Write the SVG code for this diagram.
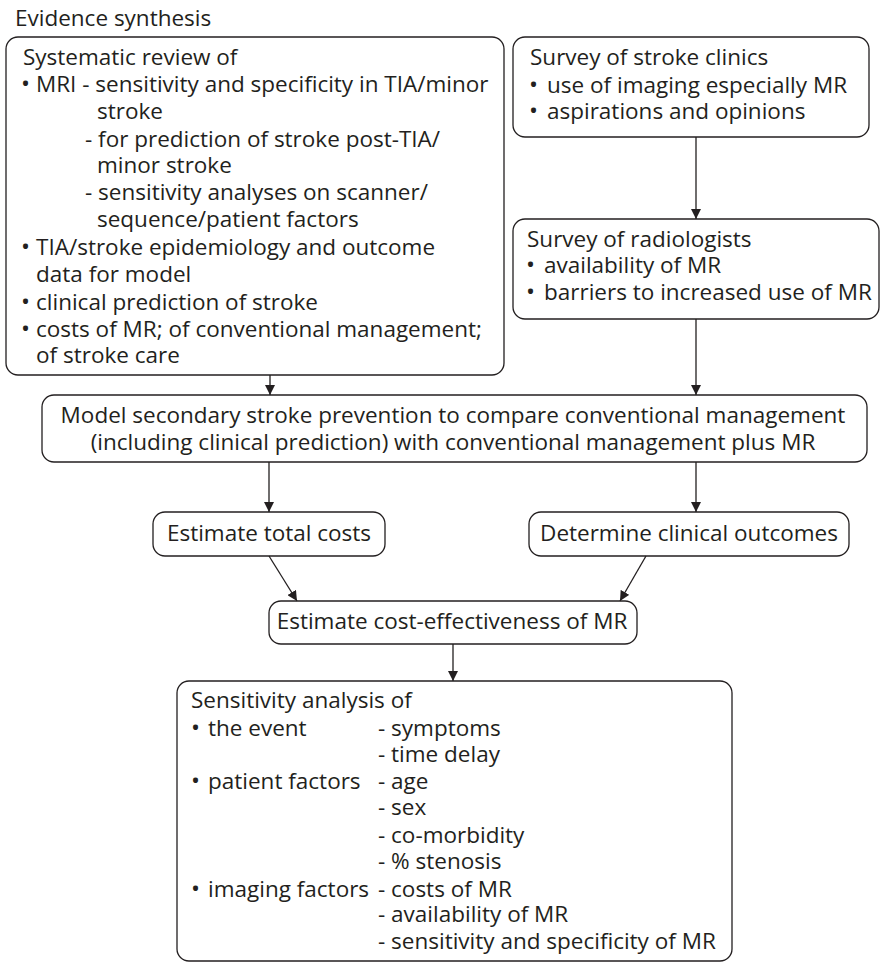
<svg xmlns="http://www.w3.org/2000/svg" width="880" height="963" viewBox="0 0 880 963">
<style>
text{font-family:"Open Sans","Noto Sans","Liberation Sans",sans-serif;font-size:22.5px;fill:#231f20}
.b{font-size:24px}
.box{fill:#fff;stroke:#231f20;stroke-width:1.3}
.c{text-anchor:middle}
.conn line{stroke:#231f20;stroke-width:1.3;marker-end:url(#ah)}
</style>
<defs>
<marker id="ah" viewBox="0 0 10 10" refX="10" refY="5" markerWidth="10" markerHeight="10" markerUnits="userSpaceOnUse" orient="auto">
<path d="M0,0 L10,5 L0,10 z" fill="#231f20"/>
</marker>
</defs>
<rect width="880" height="963" fill="#fff"/>
<text id="title" x="15" y="26">Evidence synthesis</text>

<g id="systematic-review">
<rect class="box" x="6" y="37" width="498" height="338" rx="12"/>
<text x="23" y="65">Systematic review of</text>
<text class="b" x="21" y="92">•</text><text x="36" y="92">MRI - sensitivity and specificity in TIA/minor</text>
<text x="97" y="119">stroke</text>
<text x="85" y="147">- for prediction of stroke post-TIA/</text>
<text x="97" y="173">minor stroke</text>
<text x="85" y="200">- sensitivity analyses on scanner/</text>
<text x="97" y="227">sequence/patient factors</text>
<text class="b" x="21" y="255">•</text><text x="36" y="255">TIA/stroke epidemiology and outcome</text>
<text x="36" y="282">data for model</text>
<text class="b" x="21" y="310">•</text><text x="36" y="310">clinical prediction of stroke</text>
<text class="b" x="21" y="337">•</text><text x="36" y="337">costs of MR; of conventional management;</text>
<text x="36" y="363">of stroke care</text>
</g>

<g id="survey-clinics">
<rect class="box" x="513" y="37" width="356" height="100" rx="12"/>
<text x="530" y="65">Survey of stroke clinics</text>
<text class="b" x="529" y="93">•</text><text x="547" y="93">use of imaging especially MR</text>
<text class="b" x="529" y="119">•</text><text x="547" y="119">aspirations and opinions</text>
</g>

<g id="survey-radiologists">
<rect class="box" x="513" y="219" width="366" height="100" rx="12"/>
<text x="527" y="247">Survey of radiologists</text>
<text class="b" x="526" y="273">•</text><text x="544" y="273">availability of MR</text>
<text class="b" x="526" y="300">•</text><text x="544" y="300">barriers to increased use of MR</text>
</g>

<g id="model">
<rect class="box" x="42" y="395" width="825" height="67" rx="12"/>
<text class="c" x="453" y="423">Model secondary stroke prevention to compare conventional management</text>
<text class="c" x="453" y="450">(including clinical prediction) with conventional management plus MR</text>
</g>

<g id="total-costs">
<rect class="box" x="153" y="512" width="232" height="44" rx="12"/>
<text class="c" x="269" y="541">Estimate total costs</text>
</g>

<g id="clinical-outcomes">
<rect class="box" x="529" y="512" width="320" height="44" rx="12"/>
<text class="c" x="689" y="541">Determine clinical outcomes</text>
</g>

<g id="cost-effectiveness">
<rect class="box" x="269" y="601" width="368" height="43" rx="12"/>
<text class="c" x="452" y="629">Estimate cost-effectiveness of MR</text>
</g>

<g id="sensitivity-analysis">
<rect class="box" x="177" y="681" width="555" height="280" rx="12"/>
<text x="191" y="708">Sensitivity analysis of</text>
<text class="b" x="191" y="736">•</text><text x="208" y="736">the event</text><text x="378" y="736">- symptoms</text>
<text x="378" y="762">- time delay</text>
<text class="b" x="191" y="789">•</text><text x="208" y="789">patient factors</text><text x="378" y="789">- age</text>
<text x="378" y="815">- sex</text>
<text x="378" y="843">- co-morbidity</text>
<text x="378" y="869">- % stenosis</text>
<text class="b" x="191" y="897">•</text><text x="208" y="897">imaging factors</text><text x="378" y="897">- costs of MR</text>
<text x="378" y="922">- availability of MR</text>
<text x="378" y="949">- sensitivity and specificity of MR</text>
</g>

<g id="connectors" class="conn">
<line x1="270" y1="375" x2="270" y2="395"/>
<line x1="696" y1="137" x2="696" y2="219"/>
<line x1="696" y1="319" x2="696" y2="395"/>
<line x1="269" y1="462" x2="269" y2="512"/>
<line x1="696" y1="462" x2="696" y2="512"/>
<line x1="269" y1="556" x2="297" y2="601"/>
<line x1="646" y1="556" x2="620" y2="601"/>
<line x1="453" y1="644" x2="453" y2="681"/>
</g>
</svg>
